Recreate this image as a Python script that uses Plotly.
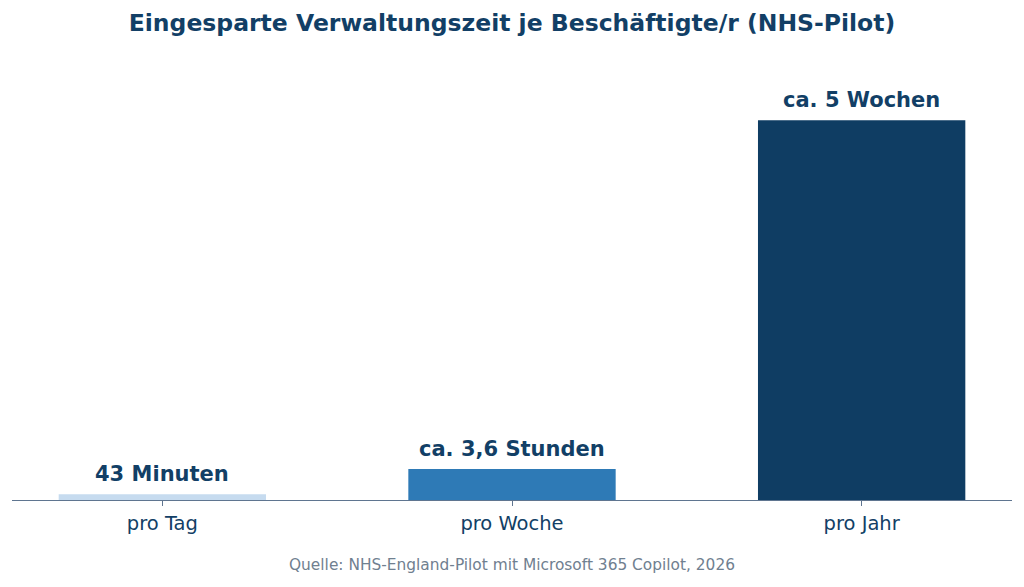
import plotly.graph_objects as go

# Daten (Stunden je Beschäftigte/r)
kategorien = ['pro Tag', 'pro Woche', 'pro Jahr']
stunden = [0.68, 3.6, 44.2]
beschriftung = ['43 Minuten', 'ca. 3,6 Stunden', 'ca. 5 Wochen']
farben = ['#c6dbef', '#2e7ab6', '#0f3d63']

dunkel = '#123f66'

fig = go.Figure()
fig.add_bar(x=kategorien, y=stunden, width=0.593,
            marker=dict(color=farben, line=dict(width=0)),
            hoverinfo='skip')

# Werte über den Balken
for k, v, t in zip(kategorien, stunden, beschriftung):
    fig.add_annotation(x=k, y=v, text=f'<b>{t}</b>', showarrow=False,
                       yanchor='bottom', yshift=6,
                       font=dict(family='DejaVu Sans', size=21, color=dunkel))

# die Seite hat 8px Rand, daher etwas kleiner als das Fenster
fig.update_layout(
    width=1008, height=571,
    paper_bgcolor='white', plot_bgcolor='white',
    margin=dict(l=4, r=4, t=52, b=79),
    showlegend=False,
    title=dict(text='<b>Eingesparte Verwaltungszeit je Beschäftigte/r (NHS-Pilot)</b>',
               x=0.5, xanchor='center', y=0.974, yanchor='middle',
               font=dict(family='DejaVu Sans', size=23.5, color=dunkel)),
    xaxis=dict(range=[-0.43, 2.43], showline=True, linecolor='#5f7590', linewidth=1.3,
               ticks='outside', ticklen=5, tickcolor='#5f7590', tickwidth=1,
               showgrid=False, zeroline=False,
               tickfont=dict(family='DejaVu Sans', size=19.5, color=dunkel)),
    yaxis=dict(range=[0, 51.2], visible=False, showgrid=False, zeroline=False),
)
fig.add_annotation(text='Quelle: NHS-England-Pilot mit Microsoft 365 Copilot, 2026',
                   xref='paper', yref='paper', x=0.5, y=-0.148,
                   xanchor='center', yanchor='middle', showarrow=False,
                   font=dict(family='DejaVu Sans', size=15.4, color='#708090'))

fig.write_html('out.html')
